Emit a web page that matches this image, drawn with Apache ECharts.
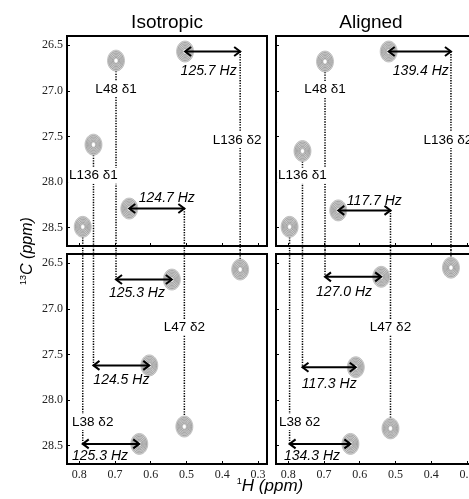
<!DOCTYPE html>
<html><head><meta charset="utf-8">
<script src="https://cdn.jsdelivr.net/npm/echarts@6/dist/echarts.min.js"></script>
<style>html,body{margin:0;padding:0;background:#fff}#c{width:469px;height:499px}</style>
</head><body><div id="c"></div><script>
// ---- data ----
const residues  = ['L136 δ2','L48 δ1','L136 δ1','L47 δ2','L38 δ2'];
const isoUpperH = [0.504, 0.697, 0.760, 0.660, 0.790];
const isoUpperC = [26.57, 26.67, 27.59, 28.29, 28.49];
const isoLowerH = [0.350, 0.541, 0.604, 0.506, 0.632];
const isoLowerC = [26.57, 26.68, 27.62, 28.29, 28.48];
const alnUpperH = [0.519, 0.697, 0.760, 0.660, 0.796];
const alnUpperC = [26.57, 26.68, 27.66, 28.31, 28.49];
const alnLowerH = [0.345, 0.540, 0.611, 0.514, 0.626];
const alnLowerC = [26.55, 26.65, 27.64, 28.31, 28.48];
const isoJ = ['125.7 Hz','125.3 Hz','124.5 Hz','124.7 Hz','125.3 Hz'];
const alnJ = ['139.4 Hz','127.0 Hz','117.3 Hz','117.7 Hz','134.3 Hz'];
const arrowIn = ['upper','lower','lower','upper','lower'];
const hTicks = [0.8, 0.7, 0.6, 0.5, 0.4, 0.3];
const cTicks = [26.5, 27.0, 27.5, 28.0, 28.5];
const panelTitles = ['Isotropic','Aligned'];

// ---- layout ----
const H_RANGE = [0.275, 0.834];
const C_RANGE = [26.4, 28.7];
const labelPanel = ['upper','upper','upper','lower','lower'];
const labelC = [27.54, 26.98, 27.93, 27.2, 28.24];
const labelDx = [-3, 0, 0, 0, 10];
const isoJOff = [[-4,20],[-7,14],[0,15],[10,-10],[-11,12]];
const alnJOff = [[1,20],[-9,15],[0,17],[10,-9],[-8,12]];
const grids = [
  {left:67, top:36, width:200, height:210},
  {left:67, top:254, width:200, height:210},
  {left:276, top:36, width:200, height:210},
  {left:276, top:254, width:200, height:210}
];
const SANS = '"Liberation Sans", Arial, sans-serif';
const SERIF = '"Liberation Serif", "Times New Roman", serif';
const DOT = {stroke:'#000', lineWidth:1.5, lineDash:[1.3,1.3]};

function peakItem(params, api){
  const p = api.coord([api.value(0), api.value(1)]);
  const rings = [[8.5,10.5],[7.3,9.0],[6.1,7.5],[4.9,6.0],[3.7,4.6],[2.6,3.2]];
  const ch = rings.map((r,k)=>({type:'ellipse', shape:{cx:p[0], cy:p[1], rx:r[0], ry:r[1]},
    style:{fill: k===0 ? '#d2d2d2' : null, stroke: k===0 ? '#b0b0b0' : '#8e8e8e', lineWidth:0.7}}));
  ch.push({type:'ellipse', shape:{cx:p[0], cy:p[1], rx:1.5, ry:1.9}, style:{fill:'#fff'}});
  return {type:'group', children:ch};
}
function vlineTop(params, api){
  const p = api.coord([api.value(0), api.value(1)]);
  const e = api.coord([api.value(0), C_RANGE[1]]);
  return {type:'line', shape:{x1:p[0], y1:p[1], x2:p[0], y2:e[1]+4}, style:DOT};
}
function vlineBottom(params, api){
  const p = api.coord([api.value(0), api.value(1)]);
  const s = api.coord([api.value(0), C_RANGE[0]]);
  return {type:'line', shape:{x1:p[0], y1:s[1]-4, x2:p[0], y2:p[1]}, style:DOT};
}
function arrowMaker(J, off){
  return function(params, api){
    const a = api.coord([api.value(0), api.value(1)]);
    const b = api.coord([api.value(2), api.value(1)]);
    const i = api.value(3);
    const st = {stroke:'#000', lineWidth:2, fill:null};
    const mx = (a[0]+b[0])/2 + off[i][0], my = a[1] + off[i][1];
    return {type:'group', children:[
      {type:'line', shape:{x1:a[0], y1:a[1], x2:b[0], y2:b[1]}, style:st},
      {type:'polyline', shape:{points:[[a[0]+6,a[1]-4.5],[a[0],a[1]],[a[0]+6,a[1]+4.5]]}, style:st},
      {type:'polyline', shape:{points:[[b[0]-6,b[1]-4.5],[b[0],b[1]],[b[0]-6,b[1]+4.5]]}, style:st},
      {type:'text', x:mx, y:my, style:{text:J[i], fontSize:14, fontStyle:'italic', fontFamily:SANS,
        fill:'#000', align:'center', verticalAlign:'middle'}}
    ]};
  };
}
function labelItem(params, api){
  const p = api.coord([api.value(0), api.value(1)]);
  const i = api.value(2);
  return {type:'text', x:p[0]+labelDx[i], y:p[1], style:{text:residues[i], fontSize:13.5, fontFamily:SANS,
    fill:'#000', align:'center', verticalAlign:'middle', backgroundColor:'#fff', padding:[1,1]}};
}

const xAxis = [], yAxis = [], series = [];
grids.forEach((g,gi)=>{
  const bottom = gi % 2 === 1, left = gi < 2;
  xAxis.push({gridIndex:gi, type:'value', inverse:true, min:H_RANGE[0], max:H_RANGE[1],
    axisLine:{show:false}, splitLine:{show:false},
    axisTick:{show:true, inside:true, length:3, customValues:hTicks, lineStyle:{color:'#000'}},
    axisLabel:{show:bottom, customValues:hTicks, formatter:v=>v.toFixed(1), fontFamily:SERIF, fontSize:12, color:'#222', margin:5}});
  yAxis.push({gridIndex:gi, type:'value', inverse:true, min:C_RANGE[0], max:C_RANGE[1],
    axisLine:{show:false}, splitLine:{show:false},
    axisTick:{show:true, inside:true, length:3, customValues:cTicks, lineStyle:{color:'#000'}},
    axisLabel:{show:left, customValues:cTicks, formatter:v=>v.toFixed(1), fontFamily:SERIF, fontSize:12, color:'#222', margin:4}});
});

[[isoUpperH,isoUpperC,isoLowerH,isoLowerC,isoJ,isoJOff,0],[alnUpperH,alnUpperC,alnLowerH,alnLowerC,alnJ,alnJOff,2]].forEach(col=>{
  const [uH,uC,lH,lC,J,off,gt] = col, gb = gt+1;
  const lineX = residues.map((r,i)=> arrowIn[i]==='upper' ? lH[i] : uH[i]);
  series.push({type:'custom', xAxisIndex:gt, yAxisIndex:gt, z:1, renderItem:vlineTop, encode:{x:0,y:1},
    data: residues.map((r,i)=>[lineX[i], uC[i]])});
  series.push({type:'custom', xAxisIndex:gb, yAxisIndex:gb, z:1, renderItem:vlineBottom, encode:{x:0,y:1},
    data: residues.map((r,i)=>[lineX[i], lC[i]])});
  series.push({type:'custom', xAxisIndex:gt, yAxisIndex:gt, z:2, renderItem:peakItem, encode:{x:0,y:1},
    data: residues.map((r,i)=>[uH[i], uC[i]])});
  series.push({type:'custom', xAxisIndex:gb, yAxisIndex:gb, z:2, renderItem:peakItem, encode:{x:0,y:1},
    data: residues.map((r,i)=>[lH[i], lC[i]])});
  series.push({type:'custom', xAxisIndex:gt, yAxisIndex:gt, z:3, renderItem:arrowMaker(J,off), encode:{x:[0,2],y:1},
    data: residues.map((r,i)=>[uH[i], uC[i], lH[i], i]).filter((d,i)=>arrowIn[i]==='upper')});
  series.push({type:'custom', xAxisIndex:gb, yAxisIndex:gb, z:3, renderItem:arrowMaker(J,off), encode:{x:[0,2],y:1},
    data: residues.map((r,i)=>[uH[i], lC[i], lH[i], i]).filter((d,i)=>arrowIn[i]==='lower')});
  series.push({type:'custom', xAxisIndex:gt, yAxisIndex:gt, z:4, renderItem:labelItem, encode:{x:0,y:1},
    data: residues.map((r,i)=>[lineX[i], labelC[i], i]).filter((d,i)=>labelPanel[i]==='upper')});
  series.push({type:'custom', xAxisIndex:gb, yAxisIndex:gb, z:4, renderItem:labelItem, encode:{x:0,y:1},
    data: residues.map((r,i)=>[lineX[i], labelC[i], i]).filter((d,i)=>labelPanel[i]==='lower')});
});

const chart = echarts.init(document.getElementById('c'), null, {renderer:'canvas'});
chart.setOption({
  animation:false,
  backgroundColor:'#fff',
  grid: grids.map(g=>Object.assign({show:true, borderColor:'#000', borderWidth:2, backgroundColor:'transparent',
    containLabel:false, outerBoundsMode:'none'}, g)),
  xAxis, yAxis, series,
  graphic:[
    {type:'text', x:167, y:23, style:{text:panelTitles[0], fontSize:19, fontFamily:SANS, fill:'#000', align:'center', verticalAlign:'middle'}},
    {type:'text', x:371, y:23, style:{text:panelTitles[1], fontSize:19, fontFamily:SANS, fill:'#000', align:'center', verticalAlign:'middle'}},
    {type:'text', x:28, y:251, rotation:Math.PI/2, style:{text:'{s|13}{m|C (ppm)}', align:'center', verticalAlign:'middle', fill:'#000',
      rich:{s:{fontSize:9, fontFamily:SANS, verticalAlign:'top', lineHeight:18}, m:{fontSize:16, fontStyle:'italic', fontFamily:SANS, lineHeight:18}}}},
    {type:'text', x:270, y:486, style:{text:'{s|1}{m|H (ppm)}', align:'center', verticalAlign:'middle', fill:'#000',
      rich:{s:{fontSize:9, fontFamily:SANS, verticalAlign:'top', lineHeight:18}, m:{fontSize:17, fontStyle:'italic', fontFamily:SANS, lineHeight:18}}}}
  ]
});
</script></body></html>
